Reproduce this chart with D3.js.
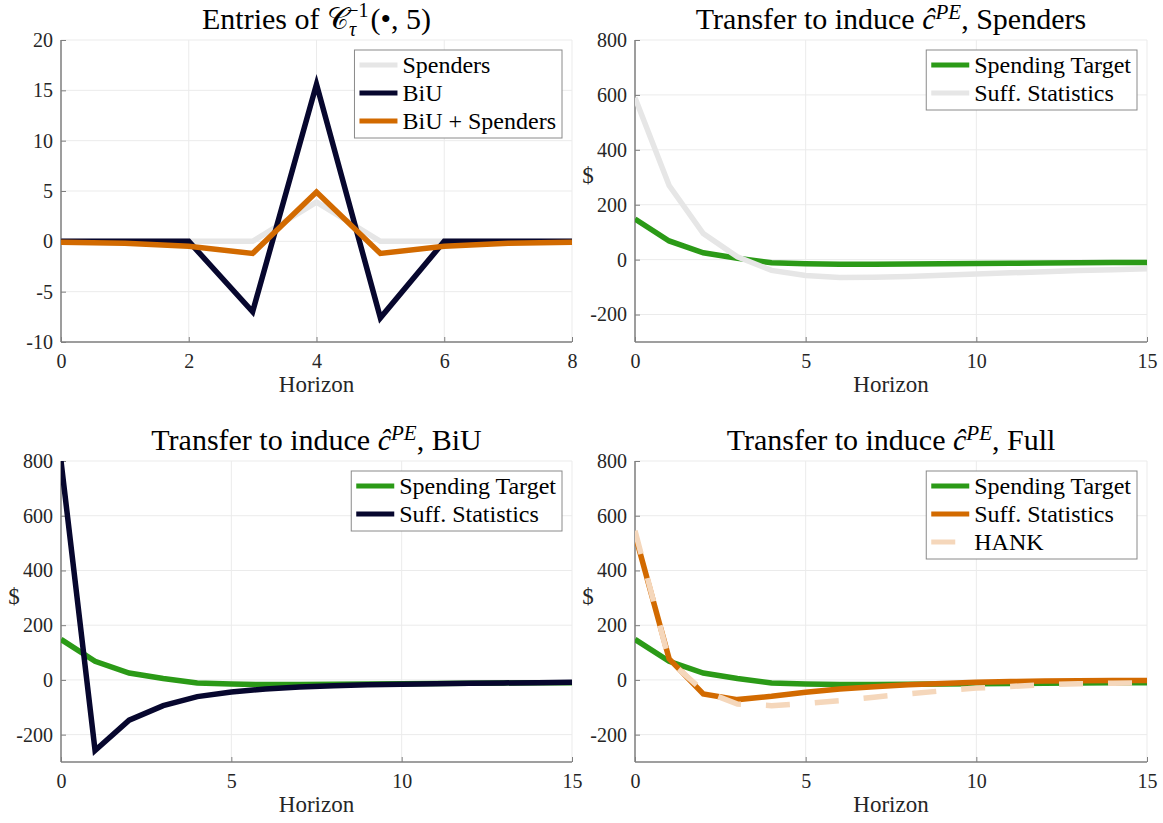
<!DOCTYPE html>
<html>
<head>
<meta charset="utf-8">
<script src="https://cdn.jsdelivr.net/npm/d3@7"></script>
<style>
    body { margin: 0; background: #fff; }
</style>
</head>
<body>
<svg id="chart" width="1163" height="823"></svg>
<script>
/*------------------- data --------------------*/
// horizons
const horizonShort = [0, 1, 2, 3, 4, 5, 6, 7, 8];
const horizon = [0, 1, 2, 3, 4, 5, 6, 7, 8, 9, 10, 11, 12, 13, 14, 15];

// entries of C_tau^{-1}(., 5)
const entriesSpenders = [0, 0, 0, 0, 3.9, 0, 0, 0, 0];
const entriesBiU = [0, 0, 0, -7.0, 15.6, -7.6, 0, 0, 0];
const entriesBoth = [-0.1, -0.2, -0.5, -1.2, 4.9, -1.2, -0.5, -0.2, -0.1];

// transfers ($)
const spendingTarget = [148, 68, 25, 5, -11, -15, -17, -17, -16, -15, -14, -13, -12, -11, -10, -10];
const suffSpenders = [590, 270, 95, 10, -39, -58, -65, -64, -61, -57, -52, -48, -44, -40, -37, -33];
const suffBiU = [800, -258, -147, -94, -61, -44, -33, -26, -21, -18, -16, -14, -12, -11, -10, -9];
const suffFull = [532, 77, -51, -72, -60, -45, -33, -25, -18, -13, -9, -6, -4, -3, -2, -2];
const hankFull = [545, 70, -40, -88, -94, -86, -76, -63, -51, -40, -30, -24, -18, -14, -12, -10];

// ticks
const xTicksShort = [0, 2, 4, 6, 8];
const xTicks = [0, 5, 10, 15];
const yTicksEntries = [-10, -5, 0, 5, 10, 15, 20];
const yTicksDollar = [-200, 0, 200, 400, 600, 800];

/*------------------- style --------------------*/
const FONT = '"Liberation Serif", serif';
const colGray = "#e6e6e6";
const colNavy = "#07072e";
const colOrange = "#d26a00";
const colGreen = "#2b9a17";
const colPeach = "#f5d7bb";

const svg = d3.select("#chart");

// title pieces: [text, italic, shift]
const titleSpenders = [["Transfer to induce "], ["ĉ", true], ["PE", true, "sup"], [", Spenders", false, "down"]];
const titleBiU = [["Transfer to induce "], ["ĉ", true], ["PE", true, "sup"], [", BiU", false, "down"]];
const titleFull = [["Transfer to induce "], ["ĉ", true], ["PE", true, "sup"], [", Full", false, "down"]];
const titleEntries = [["Entries of "], ["𝒞"], ["τ", true, "sub"], ["−1", false, "supback"], ["(•, 5)", false, "back"]];

const panels = [
    {
        px: [61, 572], py: [40, 342], xDom: [0, 8], yDom: [-10, 20],
        xTicks: xTicksShort, yTicks: yTicksEntries, xs: horizonShort,
        title: titleEntries, ylabel: false,
        series: [
            { name: "Spenders", values: entriesSpenders, color: colGray },
            { name: "BiU", values: entriesBiU, color: colNavy },
            { name: "BiU + Spenders", values: entriesBoth, color: colOrange }
        ]
    },
    {
        px: [635, 1147], py: [40, 342], xDom: [0, 15], yDom: [-300, 800],
        xTicks: xTicks, yTicks: yTicksDollar, xs: horizon,
        title: titleSpenders, ylabel: true,
        series: [
            { name: "Spending Target", values: spendingTarget, color: colGreen },
            { name: "Suff. Statistics", values: suffSpenders, color: colGray }
        ]
    },
    {
        px: [61, 572], py: [461, 762], xDom: [0, 15], yDom: [-300, 800],
        xTicks: xTicks, yTicks: yTicksDollar, xs: horizon,
        title: titleBiU, ylabel: true,
        series: [
            { name: "Spending Target", values: spendingTarget, color: colGreen },
            { name: "Suff. Statistics", values: suffBiU, color: colNavy }
        ]
    },
    {
        px: [635, 1147], py: [461, 762], xDom: [0, 15], yDom: [-300, 800],
        xTicks: xTicks, yTicks: yTicksDollar, xs: horizon,
        title: titleFull, ylabel: true,
        series: [
            { name: "Spending Target", values: spendingTarget, color: colGreen },
            { name: "Suff. Statistics", values: suffFull, color: colOrange },
            { name: "HANK", values: hankFull, color: colPeach, dash: "24 25" }
        ]
    }
];

panels.forEach((p, k) => drawPanel(p, k));

function drawPanel(p, k) {
    const x = d3.scaleLinear().domain(p.xDom).range(p.px);
    const y = d3.scaleLinear().domain(p.yDom).range([p.py[1], p.py[0]]);
    const g = svg.append("g");

    // grid
    g.selectAll(".gx").data(p.xTicks).enter().append("line")
        .attr("x1", d => x(d)).attr("x2", d => x(d))
        .attr("y1", p.py[0]).attr("y2", p.py[1])
        .attr("stroke", "#ebebeb").attr("stroke-width", 1);
    g.selectAll(".gy").data(p.yTicks).enter().append("line")
        .attr("x1", p.px[0]).attr("x2", p.px[1])
        .attr("y1", d => y(d)).attr("y2", d => y(d))
        .attr("stroke", "#ebebeb").attr("stroke-width", 1);

    // axes (ticks inward)
    const xAxis = d3.axisBottom(x).tickValues(p.xTicks).tickSize(-5).tickPadding(12).tickFormat(d3.format("d"));
    const yAxis = d3.axisLeft(y).tickValues(p.yTicks).tickSize(-5).tickPadding(8).tickFormat(d => String(d));
    const ax = g.append("g").attr("transform", `translate(0,${p.py[1]})`).call(xAxis);
    const ay = g.append("g").attr("transform", `translate(${p.px[0]},0)`).call(yAxis);
    [ax, ay].forEach(a => {
        a.attr("font-family", FONT);
        a.select(".domain").attr("stroke", "#7f7f7f").attr("stroke-width", 1.5);
        a.selectAll(".tick line").attr("stroke", "#7f7f7f").attr("stroke-width", 1);
        a.selectAll(".tick text").style("font-family", FONT).style("font-size", "20px").attr("fill", "#262626");
    });
    ax.select(".domain").attr("d", `M${p.px[0]},0H${p.px[1]}`);
    ay.select(".domain").attr("d", `M0,${p.py[0]}V${p.py[1]}`);

    // lines
    const clipId = "clip" + k;
    svg.append("clipPath").attr("id", clipId).append("rect")
        .attr("x", p.px[0]).attr("y", p.py[0])
        .attr("width", p.px[1] - p.px[0]).attr("height", p.py[1] - p.py[0]);
    const line = d3.line().x((d, i) => x(p.xs[i])).y(d => y(d));
    const lg = g.append("g").attr("clip-path", `url(#${clipId})`);
    p.series.forEach(s => {
        lg.append("path").datum(s.values)
            .attr("d", line)
            .attr("fill", "none")
            .attr("stroke", s.color)
            .attr("stroke-width", 5.5)
            .attr("stroke-dasharray", s.dash || null)
            .attr("stroke-linejoin", "miter");
    });

    // title
    const cx = (p.px[0] + p.px[1]) / 2;
    const t = g.append("text").attr("x", cx).attr("y", p.py[0] - 11)
        .attr("text-anchor", "middle").style("font-family", FONT).style("font-size", "30px").attr("fill", "#000");
    p.title.forEach(part => {
        const ts = t.append("tspan").text(part[0]);
        if (part[1]) ts.style("font-style", "italic");
        if (part[2] === "sup") ts.style("font-size", "21px").attr("dy", -10);
        if (part[2] === "down") ts.attr("dy", 10);
        if (part[2] === "sub") ts.style("font-size", "20px").attr("dy", 7);
        if (part[2] === "supback") ts.style("font-size", "20px").attr("dy", -19).attr("dx", -9);
        if (part[2] === "back") ts.attr("dy", 12).attr("dx", 2);
    });

    // axis labels
    g.append("text").attr("x", cx).attr("y", p.py[1] + 50)
        .attr("text-anchor", "middle").style("font-family", FONT).style("font-size", "23px")
        .attr("fill", "#262626").text("Horizon");
    if (p.ylabel) {
        g.append("text").attr("x", p.px[0] - 47).attr("y", (p.py[0] + p.py[1]) / 2 - 16)
            .attr("text-anchor", "middle").attr("dy", "0.35em").style("font-family", FONT)
            .style("font-size", "23px").attr("fill", "#262626").text("$");
    }

    // legend
    const leg = g.append("g");
    const box = leg.append("rect").attr("fill", "#fff").attr("stroke", "#8a8a8a").attr("stroke-width", 1);
    const texts = p.series.map((s, i) => leg.append("text")
        .attr("y", 15 + i * 28).attr("dy", "0.35em").style("font-family", FONT)
        .style("font-size", "24px").attr("fill", "#000").text(s.name));
    const tw = d3.max(texts, tx => tx.node().getComputedTextLength());
    const bw = 48 + tw + 6;
    const bh = 32 + (p.series.length - 1) * 28;
    const left = p.px[1] - 10 - bw;
    const top = p.py[0] + 10;
    leg.attr("transform", `translate(${left},${top})`);
    box.attr("width", bw).attr("height", bh);
    texts.forEach(tx => tx.attr("x", 48));
    p.series.forEach((s, i) => {
        leg.append("line")
            .attr("x1", 5).attr("x2", s.dash ? 29 : 43)
            .attr("y1", 15 + i * 28).attr("y2", 15 + i * 28)
            .attr("stroke", s.color).attr("stroke-width", 5);
    });
}
</script>
</body>
</html>
